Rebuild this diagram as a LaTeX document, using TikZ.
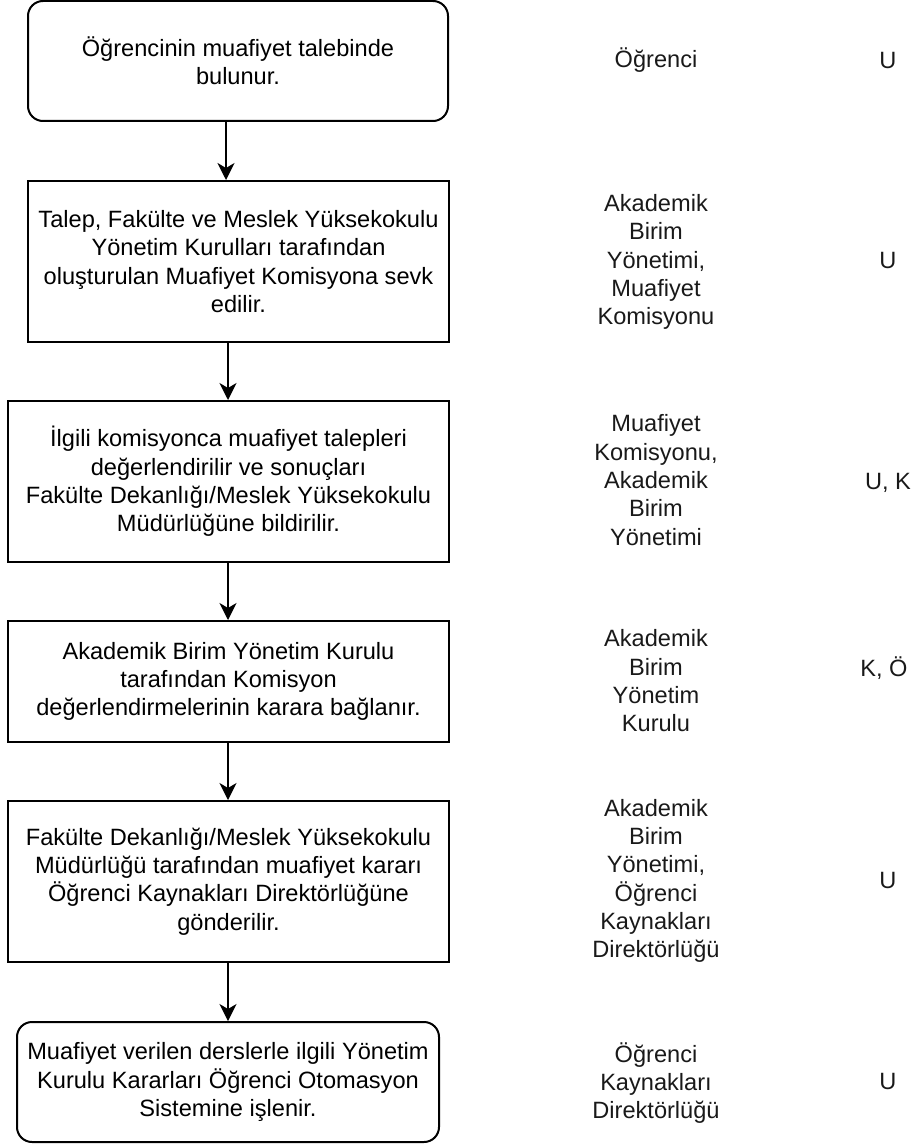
\documentclass[tikz,border=0pt]{standalone}
\usepackage{fontspec}
\setmainfont{Liberation Sans}
\usetikzlibrary{arrows.meta}
\begin{document}
\begin{tikzpicture}[x=1pt,y=-1pt,
  txt/.style={font=\fontsize{23.6}{28.3}\selectfont, align=center, inner sep=0pt},
  stepbox/.style={txt, draw=black, line width=2pt, minimum height=#1},
  roundbox/.style={stepbox=#1, rounded corners=15pt},
  lbl/.style={txt, text=black!90},
  arr/.style={line width=1.5pt, -{Stealth[length=17pt,width=17pt,inset=5pt]}}
]
\useasboundingbox (0,0) rectangle (914,1145);

% process boxes
\node[roundbox=120pt, minimum width=420pt] (b1) at (238,61) {Öğrencinin muafiyet talebinde\\bulunur.};
\node[stepbox=161pt, minimum width=421pt] (b2) at (238.5,261.5) {Talep, Fakülte ve Meslek Yüksekokulu\\Yönetim Kurulları tarafından\\oluşturulan Muafiyet Komisyona sevk\\edilir.};
\node[stepbox=161pt, minimum width=441pt] (b3) at (228.5,481.5) {İlgili komisyonca muafiyet talepleri\\değerlendirilir ve sonuçları\\Fakülte Dekanlığı/Meslek Yüksekokulu\\Müdürlüğüne bildirilir.};
\node[stepbox=121pt, minimum width=441pt] (b4) at (228.5,681.5) {Akademik Birim Yönetim Kurulu\\tarafından Komisyon\\değerlendirmelerinin karara bağlanır.};
\node[stepbox=161pt, minimum width=441pt] (b5) at (228.5,881.5) {Fakülte Dekanlığı/Meslek Yüksekokulu\\Müdürlüğü tarafından muafiyet kararı\\Öğrenci Kaynakları Direktörlüğüne\\gönderilir.};
\node[roundbox=120pt, minimum width=422pt] (b6) at (228,1082) {Muafiyet verilen derslerle ilgili Yönetim\\Kurulu Kararları Öğrenci Otomasyon\\Sistemine işlenir.};

% connectors
\coordinate (xa) at (226,0);
\coordinate (xb) at (228,0);
\draw[arr] (b1.south -| xa) -- (b2.north -| xa);
\draw[arr] (b2.south -| xb) -- (b3.north -| xb);
\draw[arr] (b3.south -| xb) -- (b4.north -| xb);
\draw[arr] (b4.south -| xb) -- (b5.north -| xb);
\draw[arr] (b5.south -| xb) -- (b6.north -| xb);

% responsible units
\node[lbl] (r1) at (656,60) {Öğrenci};
\node[lbl] (r2) at (656,262) {Akademik\\Birim\\Yönetimi,\\Muafiyet\\Komisyonu};
\node[lbl] (r3) at (656,480) {Muafiyet\\Komisyonu,\\Akademik\\Birim\\Yönetimi};
\node[lbl] (r4) at (656,681) {Akademik\\Birim\\Yönetim\\Kurulu};
\node[lbl] (r5) at (656,881) {Akademik\\Birim\\Yönetimi,\\Öğrenci\\Kaynakları\\Direktörlüğü};
\node[lbl] (r6) at (656,1083) {Öğrenci\\Kaynakları\\Direktörlüğü};

% codes
\node[lbl] (u1) at (888,60) {U};
\node[lbl] (u2) at (888,260) {U};
\node[lbl] (u3) at (888,483) {U, K};
\node[lbl] (u4) at (884,668) {K, Ö};
\node[lbl] (u5) at (888,880) {U};
\node[lbl] (u6) at (888,1081) {U};
\end{tikzpicture}
\end{document}
